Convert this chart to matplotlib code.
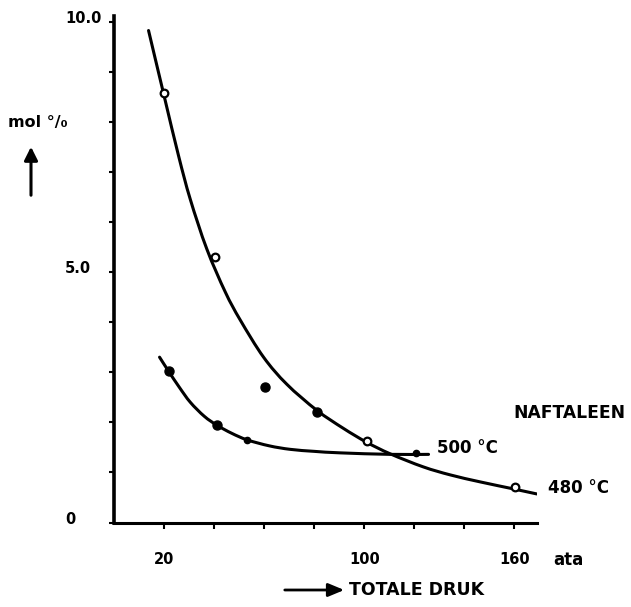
import matplotlib
matplotlib.use("Agg")
import matplotlib.pyplot as plt
from matplotlib.path import Path
from matplotlib.patches import PathPatch, FancyArrowPatch
from matplotlib.transforms import ScaledTranslation
import numpy as np

# ---- data ----
# smooth curve 480 °C (pressure in ata, mol %)
curve480_p = [13.7, 20.0, 25.7, 30.4, 37.0, 44.4, 50.4, 59.7, 69.0, 81.0, 91.6, 101.0, 110.4, 123.6, 134.4, 146.4, 159.7, 169.0]
curve480_m = [9.82, 8.50, 7.32, 6.45, 5.46, 4.60, 4.04, 3.30, 2.76, 2.24, 1.88, 1.60, 1.37, 1.11, 0.95, 0.81, 0.67, 0.57]
# smooth curve 500 °C
curve500_p = [18.1, 21.7, 26.0, 30.4, 36.0, 41.1, 47.0, 53.1, 62.0, 70.4, 80.0, 90.4, 110.4, 125.7]
curve500_m = [3.30, 3.02, 2.70, 2.40, 2.12, 1.94, 1.78, 1.65, 1.53, 1.46, 1.42, 1.39, 1.36, 1.36]

# measured points
open480_p = [20.0, 40.4, 101.0, 160.4]
open480_m = [8.58, 5.30, 1.62, 0.70]
filled480_p = [81.0]
filled480_m = [2.20]
filled500_p = [21.7, 41.1]
filled500_m = [3.02, 1.94]
small500_p = [53.1, 120.8]
small500_m = [1.65, 1.38]
stray_p = [60.4]
stray_m = [2.70]

xticks = [20, 40, 60, 80, 100, 120, 140, 160]
xtick_labels = ["20", "", "", "", "100", "", "", "160"]
yticks = [0, 1, 2, 3, 4, 5, 6, 7, 8, 9, 10]
ytick_labels = ["0", "", "", "", "", "5.0", "", "", "", "", "10.0"]

W, H = 631, 607
fig = plt.figure(figsize=(W / 100, H / 100), dpi=100)
ax = fig.add_axes([114.3 / W, 1 - 522.5 / H, 422.5 / W, 506.0 / H])
ax.set_xlim(0, 169)
ax.set_ylim(0, 10.1)

lc = "black"


def smooth_path(xs, ys):
    """Catmull-Rom curve through the given points, as cubic Bezier path."""
    P = np.column_stack([xs, ys]).astype(float)
    n = len(P)
    verts = [P[0]]
    codes = [Path.MOVETO]
    for i in range(n - 1):
        p0 = P[i - 1] if i > 0 else P[i]
        p1 = P[i]
        p2 = P[i + 1]
        p3 = P[i + 2] if i + 2 < n else P[i + 1]
        c1 = p1 + (p2 - p0) / 6.0
        c2 = p2 - (p3 - p1) / 6.0
        verts += [c1, c2, p2]
        codes += [Path.CURVE4] * 3
    return Path(verts, codes)


for xs, ys in [(curve480_p, curve480_m), (curve500_p, curve500_m)]:
    ax.add_patch(PathPatch(smooth_path(xs, ys), fill=False, lw=2.2,
                           edgecolor=lc, capstyle="round"))

ax.plot(open480_p, open480_m, "o", ms=5.5, mfc="white", mec=lc, mew=1.6)
ax.plot(filled480_p, filled480_m, "o", ms=6.5, color=lc)
ax.plot(filled500_p, filled500_m, "o", ms=6.5, color=lc)
ax.plot(small500_p, small500_m, "o", ms=4.5, color=lc)
ax.plot(stray_p, stray_m, "o", ms=6.5, color=lc)

for s in ["top", "right"]:
    ax.spines[s].set_visible(False)
ax.spines["left"].set_linewidth(2.6)
ax.spines["bottom"].set_linewidth(2.2)

ax.set_xticks(xticks)
ax.set_xticklabels(xtick_labels, fontsize=10.5, fontweight="bold")
ax.set_yticks(yticks)
ax.set_yticklabels(ytick_labels, fontsize=10.5, fontweight="bold", ha="left")
ax.tick_params(axis="x", direction="out", length=4, width=1.5, pad=17.5)
ax.tick_params(axis="y", direction="out", length=3.5, width=1.5, pad=32)
up = ScaledTranslation(0, 5 / 100, fig.dpi_scale_trans)
for lab in ax.get_yticklabels():
    lab.set_transform(lab.get_transform() + up)


def fx(x):
    return x / W


def fy(y):
    return 1 - y / H


fw = "bold"
fig.text(fx(8), fy(123), "mol °/₀", fontsize=11.5, fontweight=fw, ha="left", va="center")
fig.text(fx(553), fy(560), "ata", fontsize=12, fontweight=fw, ha="left", va="center")
fig.text(fx(349), fy(590), "TOTALE DRUK", fontsize=12.5, fontweight=fw, ha="left", va="center")
fig.text(fx(513), fy(413), "NAFTALEEN", fontsize=12.3, fontweight=fw, ha="left", va="center")
fig.text(fx(437), fy(448), "500 °C", fontsize=12, fontweight=fw, ha="left", va="center")
fig.text(fx(548), fy(488), "480 °C", fontsize=12, fontweight=fw, ha="left", va="center")

# arrows
fig.add_artist(FancyArrowPatch(
    (fx(31), fy(198)), (fx(31), fy(144)), transform=fig.transFigure,
    arrowstyle="-|>,head_length=5,head_width=2.5", lw=2.2, color=lc, mutation_scale=1.6))
fig.add_artist(FancyArrowPatch(
    (fx(282), fy(590)), (fx(347), fy(590)), transform=fig.transFigure,
    arrowstyle="-|>,head_length=6,head_width=2.5", lw=2.0, color=lc, mutation_scale=1.6))

fig.savefig("out.png", dpi=100, facecolor="white")
